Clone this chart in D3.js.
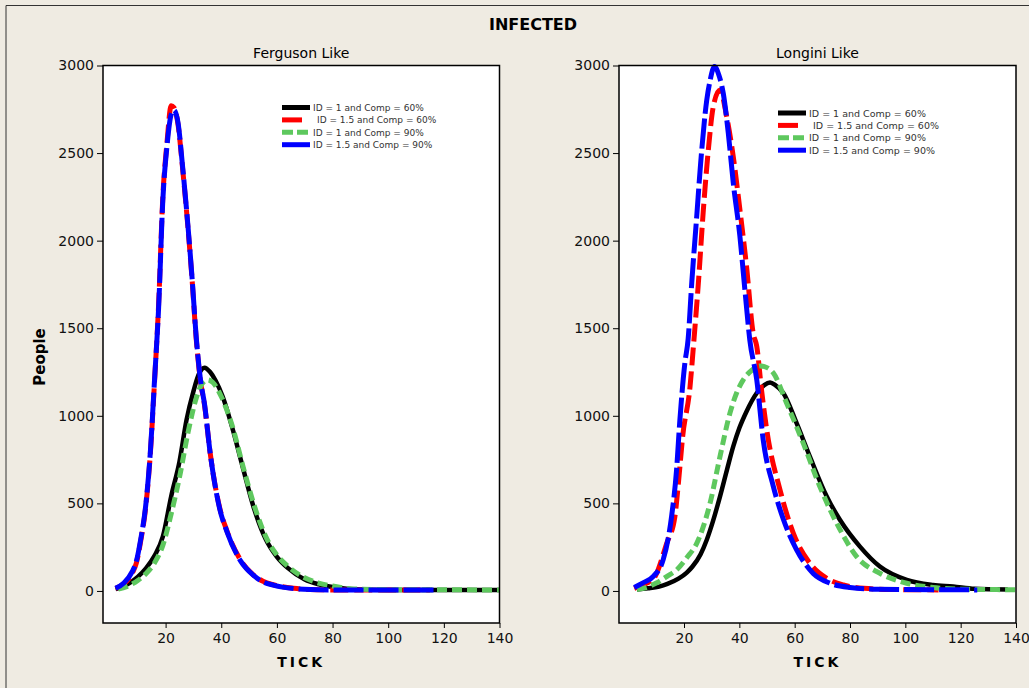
<!DOCTYPE html>
<html>
<head>
    <meta charset="utf-8">
    <title>Infected</title>
    <script src="https://d3js.org/d3.v7.min.js"></script>
    <style>
        body { margin: 0; background: #efebe2; }
        text { font-family: "DejaVu Sans", sans-serif; }
    </style>
</head>
<body>
    <script>
        // series data: [tick, people]
        var fergId1c60 = [[2,10],[4,20],[7,45],[10,80],[13,130],[16,200],[19,310],[22,540],[25,740],[27.5,975],[30,1140],[32,1240],[34,1275],[36,1250],[38,1200],[40.5,1110],[44,930],[48,690],[51.5,485],[56,295],[60,195],[64,130],[70,65],[75,38],[80,22],[85,13],[90,8],[100,6],[140,5]];
        var fergId15c60 = [[2,15],[5,40],[8,100],[9.5,160],[11,280],[13,500],[14.5,780],[16,1190],[17.5,1640],[19,2250],[20.5,2560],[22,2770],[23,2760],[24.5,2660],[26,2430],[28,2080],[29.5,1780],[31,1440],[32.5,1200],[34,1060],[36,790],[39.5,470],[42,345],[47,175],[51.5,92],[55,55],[59,34],[66,15],[72,8],[80,6],[115,5]];
        var fergId1c90 = [[3,10],[6,25],[10,60],[13,100],[16,160],[19,260],[22,440],[25,650],[28,900],[31,1100],[33,1180],[35,1205],[37,1190],[40,1110],[44,940],[48,700],[52,480],[56,310],[60,205],[64,140],[70,75],[75,45],[80,28],[85,15],[90,10],[100,7],[140,6]];
        var fergId15c90 = [[2,15],[5,45],[8,110],[9.5,170],[11,290],[13,510],[14.5,790],[16,1200],[17.5,1620],[19,2230],[20.5,2540],[22,2720],[23,2745],[24.5,2670],[26,2440],[28,2090],[29.5,1790],[31,1450],[32.5,1210],[34,1065],[36,790],[39.5,465],[42,340],[47,170],[51.5,90],[55,52],[59,32],[66,14],[72,8],[80,6],[118,5]];

        var longId1c60 = [[3,8],[7,15],[11,25],[14,40],[18,70],[21,105],[23,138],[26,210],[28.2,291],[30.5,400],[33,539],[35.5,690],[37.8,825],[40,930],[42.6,1025],[46.3,1130],[49,1175],[51.1,1190],[53,1175],[55.9,1130],[60.7,958],[65.5,767],[71.6,539],[76.4,405],[83.6,253],[90.8,139],[100.5,63],[110,34],[117.3,25],[125,12],[137,8]];
        var longId15c60 = [[2,15],[5,35],[9,70],[13.7,270],[16.7,425],[18,620],[19.5,880],[22.2,1170],[23.3,1377],[25.2,1760],[27,2177],[28.8,2520],[30.6,2767],[33,2860],[35.4,2710],[37.8,2480],[40.2,2177],[42.6,1853],[45,1472],[46.3,1396],[48,1150],[49.9,920],[54.7,577],[59.5,330],[65.5,158],[71.6,72],[77.6,34],[85,15],[95,8],[112,6]];
        var longId1c90 = [[3,8],[5.3,15],[10,45],[14,85],[17.3,120],[21,190],[24.6,272],[29.4,500],[33,767],[36.6,1015],[39,1130],[41.4,1205],[44.5,1260],[47.5,1285],[50,1275],[52.3,1244],[57.1,1072],[63.1,844],[69.1,596],[76.4,350],[82.4,196],[90.8,101],[100.5,44],[110,20],[120,10],[140,7]];
        var longId15c90 = [[2,20],[5,45],[9,85],[12.5,180],[15.5,425],[17.3,690],[18.5,975],[20.3,1300],[21.5,1440],[22.8,1760],[24.6,2140],[26,2440],[28.2,2800],[29.5,2920],[31,2995],[32.5,2950],[34.2,2840],[36,2615],[37.8,2330],[40.2,2025],[42,1720],[43.8,1430],[46.3,1205],[48.6,865],[52.3,596],[56,405],[60.7,235],[66.7,100],[72.8,44],[80,20],[90,10],[126,6]];

        var seriesNames = ["ID = 1 and Comp = 60%", "ID = 1.5 and Comp = 60%", "ID = 1 and Comp = 90%", "ID = 1.5 and Comp = 90%"];
        var seriesColors = ["#000000", "#ff0000", "#5ec85e", "#0000ff"];
        var seriesDash = [null, "18,6", "10,5", "30,5"];
        var xTicks = [20, 40, 60, 80, 100, 120, 140];
        var yTicks = [0, 500, 1000, 1500, 2000, 2500, 3000];

        var width = 1029, height = 688;

        var svg = d3.select("body").append("svg")
            .attr("width", width)
            .attr("height", height);

        svg.append("rect").attr("width", width).attr("height", height).attr("fill", "#efebe2");
        // outer frame
        svg.append("path").attr("d", "M6,688V5.5H1029").attr("fill", "none").attr("stroke", "#333").attr("stroke-width", 1);

        svg.append("text").attr("x", 533).attr("y", 30).attr("text-anchor", "middle")
            .style("font-size", "16px").style("font-weight", "bold").text("INFECTED");

        svg.append("text").attr("transform", "translate(45,357) rotate(-90)").attr("text-anchor", "middle")
            .style("font-size", "15px").style("font-weight", "bold").text("People");

        var panels = [
            { title: "Ferguson Like", left: 103, right: 499.5, x0: -2.5, data: [fergId1c60, fergId15c60, fergId1c90, fergId15c90], lx: 282, ly: 107.5, lfs: 9 },
            { title: "Longini Like", left: 619, right: 1016, x0: -3.5, data: [longId1c60, longId15c60, longId1c90, longId15c90], lx: 778, ly: 113, lfs: 9.5 }
        ];

        var plotTop = 65.5, plotBottom = 623;

        panels.forEach(function(p) {
            var x = d3.scaleLinear().domain([p.x0, 140]).range([p.left, p.right]);
            var y = d3.scaleLinear().domain([-183, 3000]).range([plotBottom, plotTop]);
            var g = svg.append("g");

            g.append("rect").attr("x", p.left).attr("y", plotTop)
                .attr("width", p.right - p.left).attr("height", plotBottom - plotTop)
                .attr("fill", "#fff");

            var line = d3.line()
                .x(function(d) { return x(d[0]); })
                .y(function(d) { return y(d[1]); })
                .curve(d3.curveMonotoneX);

            p.data.forEach(function(s, i) {
                g.append("path").datum(s)
                    .attr("d", line)
                    .attr("fill", "none")
                    .attr("stroke", seriesColors[i])
                    .attr("stroke-width", i == 0 ? 4.5 : 5)
                    .attr("stroke-dasharray", seriesDash[i]);
            });

            g.append("rect").attr("x", p.left).attr("y", plotTop)
                .attr("width", p.right - p.left).attr("height", plotBottom - plotTop)
                .attr("fill", "none").attr("stroke", "#000").attr("stroke-width", 1.5);

            var xAxis = g.append("g").attr("transform", "translate(0," + plotBottom + ")")
                .call(d3.axisBottom(x).tickValues(xTicks).tickSize(5).tickPadding(5));
            var yAxis = g.append("g").attr("transform", "translate(" + p.left + ",0)")
                .call(d3.axisLeft(y).tickValues(yTicks).tickFormat(d3.format("d")).tickSize(6).tickPadding(3));
            [xAxis, yAxis].forEach(function(a) {
                a.select(".domain").remove();
                a.selectAll("text").style("font-size", "14px").attr("fill", "#111")
                    .style("font-family", "'DejaVu Sans', sans-serif");
                a.selectAll("line").attr("stroke", "#000");
            });

            g.append("text").attr("x", (p.left + p.right) / 2).attr("y", 58).attr("text-anchor", "middle")
                .style("font-size", "14px").text(p.title);

            g.append("text").attr("x", (p.left + p.right) / 2).attr("y", 667).attr("text-anchor", "middle")
                .style("font-size", "14px").style("font-weight", "bold").style("letter-spacing", "3px").text("TICK");

            // legend
            seriesNames.forEach(function(name, i) {
                var yy = p.ly + i * 12.4;
                var len = i == 1 ? 20 : 28;
                g.append("line").attr("x1", p.lx).attr("x2", p.lx + len)
                    .attr("y1", yy).attr("y2", yy)
                    .attr("stroke", seriesColors[i]).attr("stroke-width", 5)
                    .attr("stroke-dasharray", i == 2 ? "11,4" : null);
                g.append("text").attr("x", p.lx + (i == 1 ? 35 : 31)).attr("y", yy + 3.5)
                    .style("font-size", p.lfs + "px").attr("fill", "#333").text(name);
            });
        });
    </script>
</body>
</html>
